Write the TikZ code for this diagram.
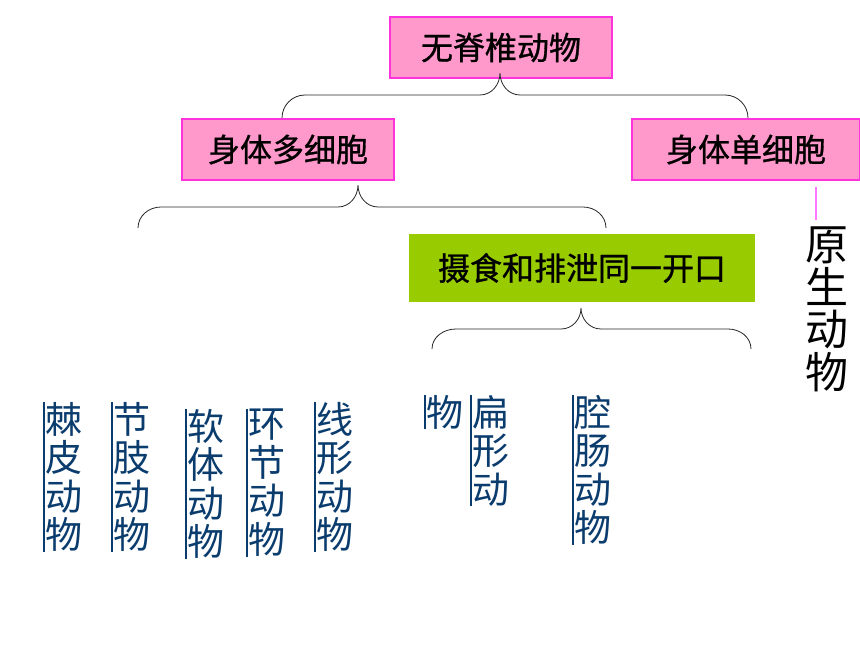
\documentclass[tikz,border=0pt]{standalone}
\usepackage{fontspec}
\newfontfamily\cjk{Noto Sans CJK SC}
\newfontfamily\cjkb[FakeBold=0.9]{Noto Sans CJK SC}
\definecolor{pinkfill}{HTML}{FF99CC}
\definecolor{pinkline}{HTML}{FF33DD}
\definecolor{greenfill}{HTML}{99CC00}
\definecolor{navy}{HTML}{0B3C6E}
\definecolor{lilac}{HTML}{FF77FF}
\begin{document}
\begin{tikzpicture}[x=1pt,y=-1pt,
  pinkbox/.style={draw=pinkline, line width=1.2pt, fill=pinkfill, inner sep=0pt, font=\cjkb\fontsize{32}{34}\selectfont},
  greenbox/.style={fill=greenfill, inner sep=0pt, font=\cjkb\fontsize{32}{34}\selectfont},
  vcol/.style={anchor=north west, inner xsep=1pt, inner ysep=0pt, align=left, text=navy, font=\cjk\fontsize{37}{38.5}\selectfont},
  vline/.style={draw=navy, line width=1.3pt},
  bracepath/.style={draw=black!85, line width=0.8pt},
  proto/.style={anchor=north, inner sep=0pt, align=center, font=\cjk\fontsize{43}{42.5}\selectfont}]
\useasboundingbox (0,0) rectangle (860,645);
% boxes
\node[pinkbox, minimum width=222pt, minimum height=61pt] (top) at (501,47.5) {无脊椎动物};
\node[pinkbox, minimum width=212pt, minimum height=61pt] (multi) at (288,149.5) {身体多细胞};
\node[pinkbox, minimum width=228pt, minimum height=61pt] (single) at (746,149.5) {身体单细胞};
\node[greenbox, minimum width=346pt, minimum height=68pt] (green) at (582,268) {摄食和排泄同一开口};
% braces
\coordinate (t1) at (500,73);
\coordinate (t2) at (358,185);
\coordinate (t3) at (581,308);
\draw[bracepath] (282,118) to[out=90,in=180] (305,95) -- (480,95) to[out=0,in=-90] (t1)
  to[out=-90,in=180] (520,95) -- (725,95) to[out=0,in=90] (748,118);
\draw[bracepath] (138,228) to[out=90,in=180] (161,207) -- (338,207) to[out=0,in=-90] (t2)
  to[out=-90,in=180] (378,207) -- (583,207) to[out=0,in=90] (606,228);
\draw[bracepath] (432,349) to[out=90,in=180] (456,329) -- (561,329) to[out=0,in=-90] (t3)
  to[out=-90,in=180] (601,329) -- (728,329) to[out=0,in=90] (751,349);
% protozoa
\node[proto] (pr) at (827,227) {原\\生\\动\\物};
\coordinate (pa) at (816,187);
\coordinate (pb) at (816,220);
\draw[lilac, line width=1.2pt] (pa) -- (pb);
% vertical columns
\node[vcol] (c1) at (44,402) {棘\\皮\\动\\物};
\node[vcol] (c2) at (112,402) {节\\肢\\动\\物};
\node[vcol] (c3) at (186,409) {软\\体\\动\\物};
\node[vcol] (c4) at (247,409) {环\\节\\动\\物};
\node[vcol] (c5) at (315,402) {线\\形\\动\\物};
\node[vcol] (c6) at (425,395) {物};
\node[vcol] (c7) at (471,395) {扁\\形\\动};
\node[vcol] (c8) at (573,395) {腔\\肠\\动\\物};
\foreach \c in {c1,c2,c3,c4,c5,c6,c7,c8}
  \draw[vline] (\c.north west) -- (\c.south west);
\end{tikzpicture}
\end{document}
